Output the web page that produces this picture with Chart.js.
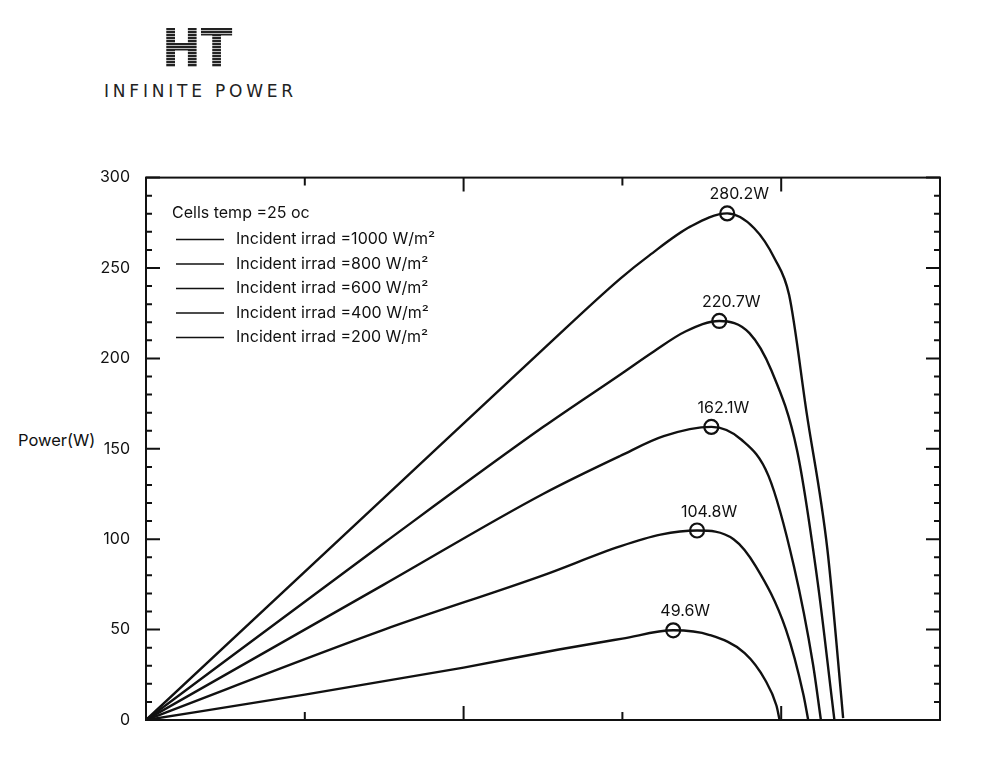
<!DOCTYPE html>
<html><head><meta charset="utf-8">
<script src="https://cdn.jsdelivr.net/npm/chart.js@4.4.1/dist/chart.umd.min.js"></script>
<style>
body{margin:0;background:#fff;width:1000px;height:768px;position:relative;font-family:Inter,sans-serif;overflow:hidden}
#logo{position:absolute;left:162px;top:22px;font:bold 54px "DejaVu Sans",sans-serif;letter-spacing:0px;
background:repeating-linear-gradient(#222 0 2px,#bbb 2px 3px);-webkit-background-clip:text;background-clip:text;color:transparent;line-height:54px;transform:scaleX(0.86);transform-origin:left}
#sub{position:absolute;left:104px;top:81px;font:17px "DejaVu Sans",sans-serif;letter-spacing:3.8px;color:#222}
#ytitle{position:absolute;left:18px;top:430px;font:16.5px Inter,sans-serif;color:#111}
#wrap{position:absolute;left:0;top:160px;width:1000px;height:580px}
</style></head><body>
<div id="logo">HT</div><div id="sub">INFINITE POWER</div>
<div id="ytitle">Power(W)</div>
<div id="wrap"><canvas id="c"></canvas></div>
<script>
const seriesLabels=["Incident irrad =1000 W/m²","Incident irrad =800 W/m²","Incident irrad =600 W/m²","Incident irrad =400 W/m²","Incident irrad =200 W/m²"];
const s1000=[[0,0],[15,123],[25,205],[29.85,244],[31.7,257],[34.3,273],[36.6,280.2],[38.3,272],[39.6,255],[40.5,235],[41.6,170],[42.9,95],[43.8,11],[43.9,1]];
const s800=[[0,0],[15,98],[25,162],[29.85,191],[32,204],[34,215],[36.1,220.7],[38,214],[39.4,193],[41.0,149],[42.3,76],[43.2,11],[43.35,0]];
const s600=[[0,0],[15,75],[25,125],[29.85,146],[32.6,157],[35.6,162.1],[37.5,155],[39.2,135],[40.8,85],[42,31],[42.5,0]];
const s400=[[0,0],[15,50],[25,80],[29.85,96],[32.4,102.5],[34.7,104.8],[37,100],[38.4,85],[40.3,50],[41.4,14],[41.7,0]];
const s200=[[0,0],[10,14],[20,29],[26,39],[30,45],[33.2,49.6],[35.5,47],[37.7,37],[39,22],[39.7,8],[39.9,0]];
const peaks=[[36.6,280.2],[36.1,220.7],[35.6,162.1],[34.7,104.8],[33.2,49.6]];
const peakLabels=["280.2W","220.7W","162.1W","104.8W","49.6W"];
const legendTitle="Cells temp =25 oc";
const yTicks=[0,50,100,150,200,250,300];
const xMajor=[10,20,30,40];

const toXY=a=>a.map(p=>({x:p[0],y:p[1]}));
const curves=[s1000,s800,s600,s400,s200];
const datasets=curves.map((c,i)=>({label:seriesLabels[i],data:toXY(c),borderColor:'#111',borderWidth:2.4,pointRadius:0,fill:false,cubicInterpolationMode:'monotone'}));
datasets.push({type:'scatter',label:'peaks',data:toXY(peaks),pointRadius:7,pointBorderWidth:2.2,pointBorderColor:'#111',pointBackgroundColor:'rgba(0,0,0,0)'});

const deco={id:'deco',afterDraw(ch){
 const {ctx,chartArea:a,scales:{x,y}}=ch;
 ctx.save();ctx.strokeStyle='#111';ctx.lineWidth=2;
 ctx.strokeRect(a.left,a.top,a.right-a.left,a.bottom-a.top);
 for(let v=0;v<=300;v+=10){const py=y.getPixelForValue(v);const L=v%50===0?14:6;
  ctx.beginPath();ctx.moveTo(a.left,py);ctx.lineTo(a.left+L,py);ctx.moveTo(a.right,py);ctx.lineTo(a.right-L,py);ctx.stroke();}
 xMajor.forEach((v,i)=>{const px=x.getPixelForValue(v);const L=i%2===1?14:8;
  ctx.beginPath();ctx.moveTo(px,a.bottom);ctx.lineTo(px,a.bottom-L);ctx.moveTo(px,a.top);ctx.lineTo(px,a.top+L);ctx.stroke();});
 ctx.fillStyle='#111';ctx.font='16px Inter, sans-serif';ctx.textAlign='center';ctx.textBaseline='alphabetic';
 peaks.forEach((p,i)=>{ctx.fillText(peakLabels[i],x.getPixelForValue(p[0])+12,y.getPixelForValue(p[1])-14);});
 ctx.textAlign='left';ctx.textBaseline='middle';
 ctx.fillText(legendTitle,a.left+26,a.top+36);
 seriesLabels.forEach((l,i)=>{const yy=a.top+62+i*24.5;ctx.lineWidth=1.5;ctx.beginPath();ctx.moveTo(a.left+30,yy);ctx.lineTo(a.left+78,yy);ctx.stroke();ctx.fillText(l,a.left+90,yy);});
 ctx.restore();}};

new Chart(document.getElementById('c'),{type:'line',data:{datasets},plugins:[deco],
options:{responsive:true,maintainAspectRatio:false,animation:false,
layout:{padding:{top:13,right:60,bottom:12,left:0}},
plugins:{legend:{display:false},tooltip:{enabled:false}},
scales:{
 x:{type:'linear',min:0,max:50,display:true,grid:{display:false},border:{display:false},ticks:{display:false}},
 y:{type:'linear',min:0,max:300,afterBuildTicks(s){s.ticks=yTicks.map(v=>({value:v}));},afterFit(s){s.width=146;},
  grid:{display:false},border:{display:false},ticks:{color:'#111',font:{family:'Inter',size:16},padding:8}}
}}});
</script></body></html>
